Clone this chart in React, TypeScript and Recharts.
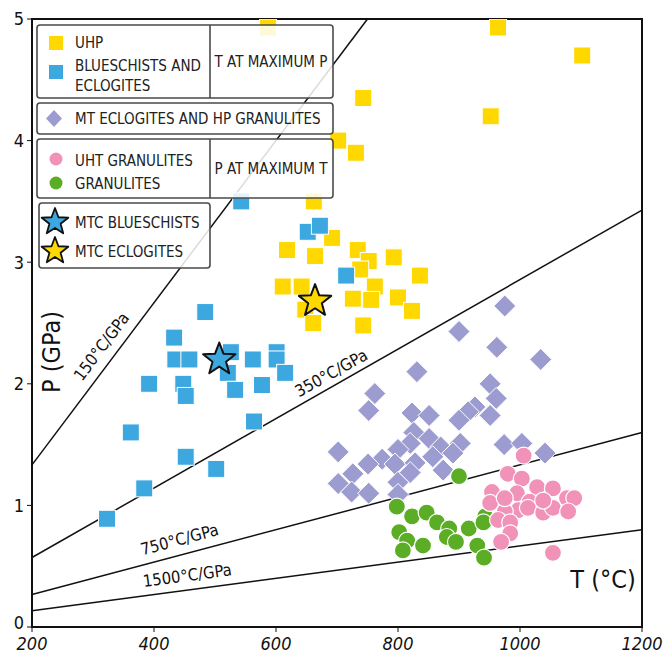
import React from "react";
import {
  ScatterChart,
  Scatter,
  XAxis,
  YAxis,
  ReferenceLine,
  ReferenceArea,
} from "recharts";

// T (°C) and P (GPa)
const uhpT = [662, 692, 618, 664, 734, 752, 738, 793, 836, 611, 642, 762, 726, 756, 800, 823, 648, 661, 743, 964, 1102, 743, 952, 702, 731, 587];
const uhpP = [3.5, 3.2, 3.1, 3.05, 3.1, 3.01, 2.94, 3.04, 2.89, 2.8, 2.8, 2.8, 2.7, 2.69, 2.71, 2.6, 2.61, 2.5, 2.48, 4.93, 4.7, 4.35, 4.2, 4.0, 3.9, 4.93];

const bsT = [484, 433, 435, 458, 526, 562, 601, 601, 615, 392, 448, 452, 521, 533, 577, 564, 362, 452, 502, 384, 323, 652, 672, 715, 543];
const bsP = [2.59, 2.38, 2.2, 2.2, 2.26, 2.2, 2.26, 2.2, 2.09, 2.0, 2.0, 1.9, 2.09, 1.95, 1.99, 1.69, 1.6, 1.4, 1.3, 1.14, 0.89, 3.25, 3.3, 2.89, 3.5];

const mtT = [975, 900, 962, 1034, 831, 951, 961, 762, 752, 823, 851, 926, 915, 900, 951, 826, 851, 870, 902, 820, 800, 702, 774, 751, 795, 828, 857, 874, 974, 1003, 1041, 726, 702, 724, 752, 800, 800, 820, 890];
const mtP = [2.64, 2.43, 2.3, 2.2, 2.1, 2.0, 1.88, 1.92, 1.78, 1.76, 1.74, 1.81, 1.77, 1.7, 1.74, 1.6, 1.55, 1.48, 1.51, 1.51, 1.46, 1.44, 1.38, 1.34, 1.34, 1.35, 1.4, 1.29, 1.5, 1.51, 1.43, 1.26, 1.18, 1.11, 1.1, 1.19, 1.09, 1.27, 1.43];

const grT = [900, 798, 823, 847, 864, 884, 916, 943, 940, 802, 815, 808, 841, 880, 895, 930, 941];
const grP = [1.24, 0.99, 0.91, 0.94, 0.86, 0.81, 0.81, 0.91, 0.86, 0.78, 0.71, 0.63, 0.67, 0.74, 0.7, 0.67, 0.57];

const uhtT = [1006, 980, 1003, 954, 1028, 1054, 995, 1016, 1077, 1089, 997, 1013, 1038, 1054, 1079, 975, 951, 964, 984, 984, 969, 1054, 975, 1038];
const uhtP = [1.41, 1.26, 1.22, 1.11, 1.15, 1.14, 1.1, 1.03, 1.06, 1.06, 0.96, 0.98, 0.94, 0.98, 0.95, 0.95, 1.02, 0.88, 0.86, 0.77, 0.7, 0.61, 1.06, 1.04];

const mtcBsT = [507];
const mtcBsP = [2.2];
const mtcEcT = [664];
const mtcEcP = [2.68];

// geothermal gradients, °C/GPa
const gradients = [150, 350, 750, 1500];

const xTicks = [200, 400, 600, 800, 1000, 1200];
const yTicks = [0, 1, 2, 3, 4, 5];

const YELLOW = "#FFD800";
const BLUE = "#3DA8DF";
const PURPLE = "#9C9CD0";
const GREEN = "#5AAD24";
const PINK = "#F193B9";
const FONT = "'DejaVu Sans Condensed', 'Liberation Sans Narrow', sans-serif";

const pts = (t: number[], p: number[]) => t.map((x, i) => ({ x, y: p[i] }));

const Square = (props: any) => {
  const { cx, cy } = props;
  return <rect x={cx - 8.5} y={cy - 8.5} width={17} height={17} fill={props.color} stroke="#fff" strokeWidth={1} />;
};
const Diamond = (props: any) => {
  const { cx, cy } = props;
  const r = 11;
  return (
    <polygon
      points={`${cx},${cy - r} ${cx + r},${cy} ${cx},${cy + r} ${cx - r},${cy}`}
      fill={PURPLE}
      stroke="#fff"
      strokeWidth={1}
    />
  );
};
const Dot = (props: any) => {
  const { cx, cy } = props;
  return <circle cx={cx} cy={cy} r={8.5} fill={props.color} stroke="#fff" strokeWidth={1.2} />;
};
const starPoints = (cx: number, cy: number, R: number) => {
  const out: string[] = [];
  for (let i = 0; i < 10; i++) {
    const r = i % 2 === 0 ? R : R * 0.42;
    const a = -Math.PI / 2 + (i * Math.PI) / 5;
    out.push(`${cx + r * Math.cos(a)},${cy + r * Math.sin(a)}`);
  }
  return out.join(" ");
};
const Star = (props: any) => {
  const { cx, cy } = props;
  return <polygon points={starPoints(cx, cy, 17)} fill={props.color} stroke="#111" strokeWidth={2} strokeLinejoin="round" />;
};

// y tick: the "0" sits a touch higher so it clears the "200" below it
const YTick = (props: any) => {
  const { x, y, payload } = props;
  const lift = payload.value === 0 ? -4 : 0;
  return (
    <text x={x} y={y + lift} dy="0.35em" textAnchor="end" fontSize={18} fontFamily={FONT} fill="#111">
      {payload.value}
    </text>
  );
};

function LegendOverlay() {
  const box = { fill: "#fff", fillOpacity: 0.85, stroke: "#4a4a4a", strokeWidth: 1.6 };
  const txt = { fontFamily: FONT, fontSize: 15, fill: "#222" } as any;
  return (
    <svg width={663} height={656} style={{ position: "absolute", left: 0, top: 0, pointerEvents: "none" }}>
      <rect x={37} y={25} width={296} height={73} rx={3} {...box} />
      <line x1={210} y1={25} x2={210} y2={98} stroke="#4a4a4a" strokeWidth={1.6} />
      <rect x={37} y={103} width={296} height={31} rx={3} {...box} />
      <rect x={37} y={139} width={296} height={59} rx={3} {...box} />
      <line x1={210} y1={139} x2={210} y2={198} stroke="#4a4a4a" strokeWidth={1.6} />
      <rect x={39} y={203} width={171} height={65} rx={3} {...box} />

      <rect x={49} y={36} width={14} height={14} fill={YELLOW} />
      <text x={75} y={48} {...txt}>UHP</text>
      <rect x={49} y={65} width={14} height={14} fill={BLUE} />
      <text x={75} y={71} {...txt}>BLUESCHISTS AND</text>
      <text x={75} y={91} {...txt}>ECLOGITES</text>
      <text x={271} y={67} textAnchor="middle" {...txt}>T AT MAXIMUM P</text>

      <polygon points="54,110 62,118.5 54,127 46,118.5" fill={PURPLE} />
      <text x={75} y={124} {...txt}>MT ECLOGITES AND HP GRANULITES</text>

      <circle cx={56} cy={159} r={6.5} fill={PINK} />
      <text x={75} y={166} {...txt}>UHT GRANULITES</text>
      <circle cx={56} cy={183} r={6.5} fill={GREEN} />
      <text x={75} y={189} {...txt}>GRANULITES</text>
      <text x={271} y={174} textAnchor="middle" {...txt}>P AT MAXIMUM T</text>

      <polygon points={starPoints(55, 222, 14)} fill={BLUE} stroke="#111" strokeWidth={1.8} strokeLinejoin="round" />
      <text x={75} y={228} {...txt}>MTC BLUESCHISTS</text>
      <polygon points={starPoints(55, 251, 14)} fill={YELLOW} stroke="#111" strokeWidth={1.8} strokeLinejoin="round" />
      <text x={75} y={257} {...txt}>MTC ECLOGITES</text>
    </svg>
  );
}

function Labels() {
  const t = { fontFamily: FONT, fill: "#111" } as any;
  return (
    <svg width={663} height={656} style={{ position: "absolute", left: 0, top: 0, pointerEvents: "none" }}>
      <text x={60} y={352} transform="rotate(-90 60 352)" textAnchor="middle" fontSize={25} {...t}>P (GPa)</text>
      <text x={603} y={588} textAnchor="middle" fontSize={25} {...t}>T (°C)</text>
      <text x={106} y={350} transform="rotate(-53 106 350)" textAnchor="middle" fontSize={16.5} {...t}>150°C/GPa</text>
      <text x={334} y={378} transform="rotate(-29 334 378)" textAnchor="middle" fontSize={16.5} {...t}>350°C/GPa</text>
      <text x={181} y={545} transform="rotate(-15 181 545)" textAnchor="middle" fontSize={16.5} {...t}>750°C/GPa</text>
      <text x={188} y={581} transform="rotate(-7.6 188 581)" textAnchor="middle" fontSize={16.5} {...t}>1500°C/GPa</text>
    </svg>
  );
}

export default function App() {
  return (
    <div style={{ position: "absolute", left: 0, top: 0, width: 663, height: 656, background: "#fff" }}>
      <ScatterChart width={663} height={656} margin={{ top: 19, right: 21, bottom: 1, left: 10 }}>
        <XAxis
          type="number"
          dataKey="x"
          domain={[200, 1200]}
          ticks={xTicks}
          allowDataOverflow
          height={28}
          axisLine={{ stroke: "#111", strokeWidth: 2 }}
          tickLine={{ stroke: "#111" }}
          tickSize={5}
          tickMargin={5}
          tick={{ fill: "#111", fontSize: 18, fontFamily: FONT, fontStyle: "italic" }}
        />
        <YAxis
          type="number"
          dataKey="y"
          domain={[0, 5]}
          ticks={yTicks}
          allowDataOverflow
          width={22}
          axisLine={{ stroke: "#111", strokeWidth: 2 }}
          tickLine={{ stroke: "#111" }}
          tickSize={5}
          tickMargin={3}
          tick={<YTick />}
        />
        <ReferenceArea x1={200} x2={1200} y1={0} y2={5} fill="none" stroke="#111" strokeWidth={2} />
        {gradients.map((g) => {
          const tEnd = Math.min(1200, 5 * g);
          return (
            <ReferenceLine
              key={g}
              segment={[
                { x: 200, y: 200 / g },
                { x: tEnd, y: tEnd / g },
              ]}
              stroke="#111"
              strokeWidth={1.5}
            />
          );
        })}
        <Scatter data={pts(uhpT, uhpP)} shape={(p: any) => <Square {...p} color={YELLOW} />} isAnimationActive={false} />
        <Scatter data={pts(bsT, bsP)} shape={(p: any) => <Square {...p} color={BLUE} />} isAnimationActive={false} />
        <Scatter data={pts(mtT, mtP)} shape={(p: any) => <Diamond {...p} />} isAnimationActive={false} />
        <Scatter data={pts(grT, grP)} shape={(p: any) => <Dot {...p} color={GREEN} />} isAnimationActive={false} />
        <Scatter data={pts(uhtT, uhtP)} shape={(p: any) => <Dot {...p} color={PINK} />} isAnimationActive={false} />
        <Scatter data={pts(mtcBsT, mtcBsP)} shape={(p: any) => <Star {...p} color={BLUE} />} isAnimationActive={false} />
        <Scatter data={pts(mtcEcT, mtcEcP)} shape={(p: any) => <Star {...p} color={YELLOW} />} isAnimationActive={false} />
      </ScatterChart>
      <LegendOverlay />
      <Labels />
    </div>
  );
}
